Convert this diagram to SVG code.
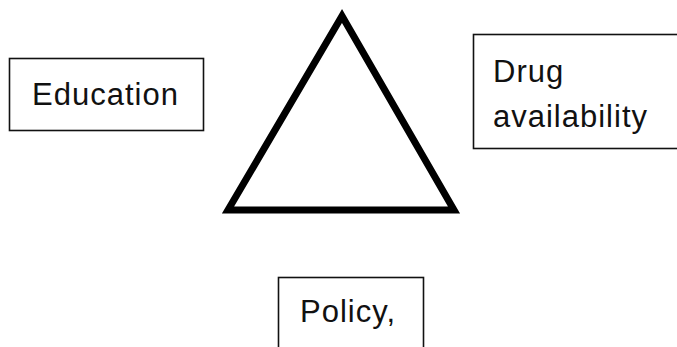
<svg xmlns="http://www.w3.org/2000/svg" width="677" height="347" viewBox="0 0 677 347">
<style>
.box{fill:#fff;stroke:#111;stroke-width:1.6}
.lbl{font-family:"Liberation Sans",Arial,sans-serif;font-size:31px;letter-spacing:1px;fill:#111}
</style>
<rect width="677" height="347" fill="#fff"/>
<g id="triangle">
<polygon points="342,16 228,210 454,210" fill="none" stroke="#000" stroke-width="7" stroke-linejoin="miter"/>
</g>
<g id="education">
<rect class="box" x="9.5" y="58.5" width="194" height="72"/>
<text class="lbl" x="32" y="105">Education</text>
</g>
<g id="drug">
<rect class="box" x="473.5" y="34.5" width="220" height="114"/>
<text class="lbl" x="493" y="82">Drug</text>
<text class="lbl" x="493" y="127">availability</text>
</g>
<g id="policy">
<rect class="box" x="278.5" y="277.5" width="145" height="80"/>
<text class="lbl" x="300" y="322">Policy,</text>
</g>
<g id="connectors"/>
</svg>
